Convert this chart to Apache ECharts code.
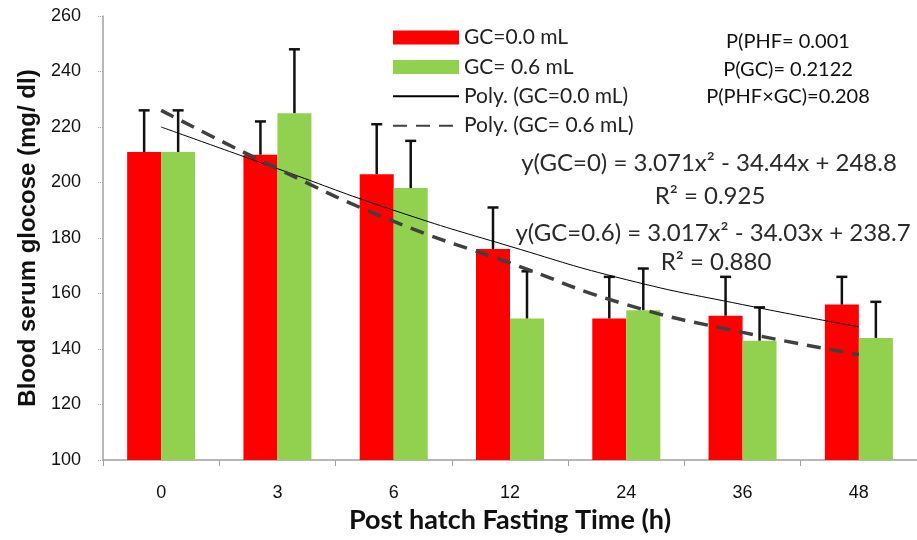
<!DOCTYPE html>
<html>
<head>
<meta charset="utf-8">
<script src="https://cdn.jsdelivr.net/npm/echarts@6/dist/echarts.min.js"></script>
<style>
  html, body { margin: 0; padding: 0; background: #fff; }
</style>
</head>
<body>
<div id="main" style="width: 917px;height:540px;"></div>
<script>
// fasting time categories (h)
var categories = ['0', '3', '6', '12', '24', '36', '48'];
// mean blood serum glucose per group
var gc00 = [211, 210, 203, 176, 151, 152, 156];
var gc06 = [211, 225, 198, 151, 154, 143, 144];
// upward error bars (SD)
var gc00Err = [15, 12, 18, 15, 15, 14, 10];
var gc06Err = [15, 23, 17, 17, 15, 12, 13];
// trend lines
var poly00 = [220, 205, 190, 177, 165, 156, 148];
var poly06 = [226, 205, 186, 171, 156, 146, 138];
var yTicks = { min: 100, max: 260, interval: 20 };

var BAR_W = 34;

function errData(means, errs) {
    var out = [];
    for (var i = 0; i < means.length; i++) {
        out.push([i, means[i], means[i] + errs[i]]);
    }
    return out;
}

function errRender(offset) {
    return function (params, api) {
        var p0 = api.coord([api.value(0), api.value(1)]);
        var p1 = api.coord([api.value(0), api.value(2)]);
        var x = p0[0] + offset;
        var style = { stroke: '#111', lineWidth: 2.5 };
        return {
            type: 'group',
            children: [
                { type: 'line', shape: { x1: x, y1: p0[1], x2: x, y2: p1[1] }, style: style },
                { type: 'line', shape: { x1: x - 5.5, y1: p1[1], x2: x + 5.5, y2: p1[1] }, style: style }
            ]
        };
    };
}

function note(x, y, text, size, color) {
    return {
        type: 'text', x: x, y: y,
        style: { text: text, font: size + 'px Lato', fill: color, align: 'center', verticalAlign: 'middle' }
    };
}

var myChart = echarts.init(document.getElementById('main'));

var option = {
    animation: false,
    grid: { left: 103, right: -12, top: 16, bottom: 80 },
    legend: {
        orient: 'vertical',
        left: 387,
        top: 22,
        itemWidth: 66,
        itemHeight: 14,
        itemGap: 8.4,
        textStyle: { fontFamily: 'Lato', fontSize: 21, color: '#222' },
        data: [
            { name: 'GC=0.0 mL', icon: 'rect' },
            { name: 'GC= 0.6 mL', icon: 'rect' },
            { name: 'Poly. (GC=0.0 mL)', itemStyle: { opacity: 0 } },
            { name: 'Poly. (GC= 0.6 mL)', itemStyle: { opacity: 0 } }
        ]
    },
    xAxis: {
        type: 'category',
        data: categories,
        name: 'Post hatch Fasting Time (h)',
        nameLocation: 'middle',
        nameGap: 47,
        nameTextStyle: { fontFamily: 'Lato', fontSize: 27, fontWeight: 'bold', color: '#111' },
        axisLine: { lineStyle: { color: '#a0a0a0', width: 1.5 } },
        axisTick: { show: true, length: 6, lineStyle: { color: '#a0a0a0' } },
        axisLabel: { margin: 24, fontFamily: 'Liberation Sans', fontSize: 18, color: '#111' }
    },
    yAxis: {
        type: 'value',
        min: yTicks.min,
        max: yTicks.max,
        interval: yTicks.interval,
        name: 'Blood serum glocose (mg/ dl)',
        nameLocation: 'middle',
        nameGap: 62,
        nameTextStyle: { fontFamily: 'Liberation Sans', fontSize: 24, fontWeight: 'bold', color: '#111' },
        axisLine: { show: true, lineStyle: { color: '#a0a0a0', width: 1.5 } },
        axisTick: { show: true, length: 5, lineStyle: { color: '#a0a0a0', type: 'dotted' } },
        splitLine: { show: false },
        axisLabel: { margin: 22, fontFamily: 'Liberation Sans', fontSize: 18, color: '#111' }
    },
    graphic: [
        note(788, 42, 'P(PHF= 0.001', 20, '#111'),
        note(788, 70, 'P(GC)= 0.2122', 20, '#111'),
        note(788, 97, 'P(PHF×GC)=0.208', 20, '#111'),
        note(709, 163, 'y(GC=0) = 3.071x² - 34.44x + 248.8', 24, '#2a2a2a'),
        note(710, 196, 'R² = 0.925', 24, '#2a2a2a'),
        note(713, 233, 'y(GC=0.6) = 3.017x² - 34.03x + 238.7', 24, '#2a2a2a'),
        note(716, 262, 'R² = 0.880', 24, '#2a2a2a')
    ],
    series: [
        {
            name: 'GC=0.0 mL',
            type: 'bar',
            data: gc00,
            barWidth: BAR_W,
            barGap: '0%',
            itemStyle: { color: '#ff0000' }
        },
        {
            name: 'GC= 0.6 mL',
            type: 'bar',
            data: gc06,
            barWidth: BAR_W,
            barGap: '0%',
            itemStyle: { color: '#92d050' }
        },
        {
            type: 'custom',
            renderItem: errRender(-BAR_W / 2),
            data: errData(gc00, gc00Err),
            z: 3
        },
        {
            type: 'custom',
            renderItem: errRender(BAR_W / 2),
            data: errData(gc06, gc06Err),
            z: 3
        },
        {
            name: 'Poly. (GC=0.0 mL)',
            type: 'line',
            data: poly00,
            smooth: true,
            symbol: 'none',
            lineStyle: { color: '#000', width: 1 },
            itemStyle: { color: '#000' },
            z: 4
        },
        {
            name: 'Poly. (GC= 0.6 mL)',
            type: 'line',
            data: poly06,
            smooth: true,
            symbol: 'none',
            lineStyle: { color: '#404040', width: 3.5, type: [14, 9] },
            itemStyle: { color: '#404040' },
            z: 4
        }
    ]
};
myChart.setOption(option);
</script>
</body>
</html>
